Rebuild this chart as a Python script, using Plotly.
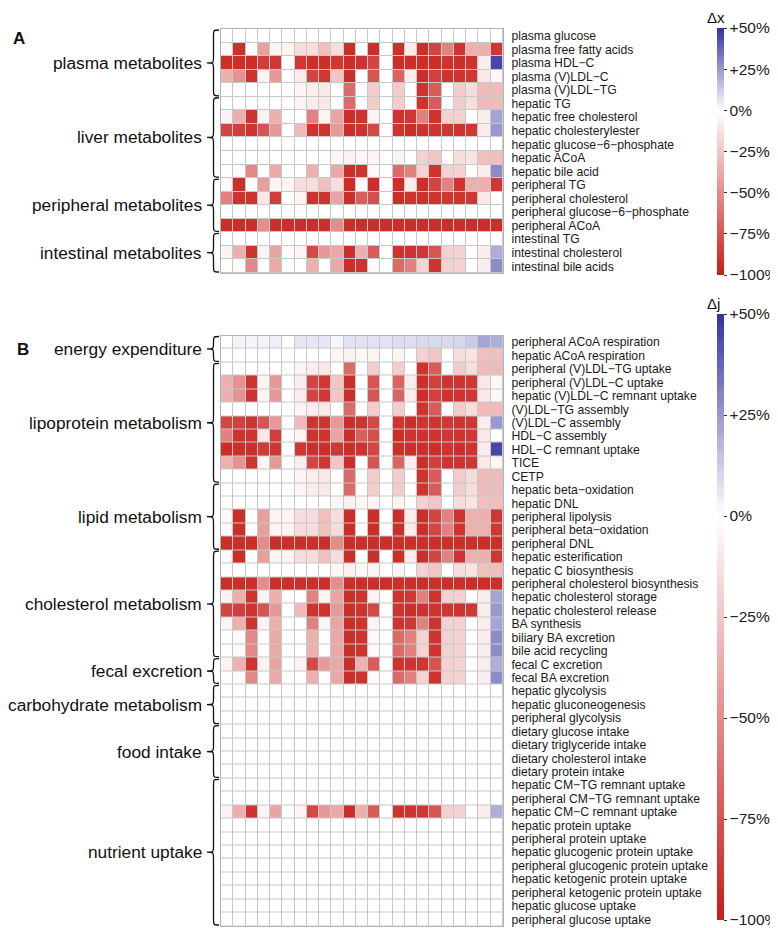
import plotly.graph_objects as go

W, H = 778, 928

# ---- percent change per cell (23 scenarios per row) ----
no_change = [0, 0, 0, 0, 0, 0, 0, 0, 0, 0, 0, 0, 0, 0, 0, 0, 0, 0, 0, 0, 0, 0, 0]
ffa_like = [-2, -92, 0, -42, -5, -5, -15, -15, -28, -15, -92, 0, -92, 0, -92, -8, -92, -82, -55, -90, -35, -35, -88]
hdl_like = [-92, -92, -92, -86, -88, 0, -88, -92, -92, -88, -92, -90, -82, 0, -92, -92, -92, -92, -90, -92, -90, -8, 45]
ldlc_like = [-35, -48, -90, -5, -45, 0, -8, -82, -88, -25, -92, 0, -75, 0, -68, -8, -92, -84, -90, -90, -88, -10, -3]
tg_like = [0, 0, 0, 0, 0, 0, -5, -8, -10, 0, -65, 0, -22, 0, -22, 0, -90, -72, 0, -22, -15, -30, -30]
freechol_like = [-5, -35, -90, -5, -35, 0, 0, -55, -5, -40, -92, -90, -5, 0, -90, -88, -55, -90, -20, -20, 0, -8, 22]
ester_like = [-82, -84, -90, -75, -45, 0, -30, -90, -90, -45, -92, -90, -80, 0, -90, -92, -90, -90, -88, -90, -88, -8, 25]
acoa_like = [0, 0, 0, 0, 0, 0, 0, 0, 0, -4, -6, -3, -5, 0, -5, 0, -20, -25, 0, -15, -12, -28, -28]
bileacid_like = [0, -2, -52, 0, -38, 0, 0, -35, 0, -38, -92, -90, -3, 0, -65, -55, -20, -90, -20, -20, 0, -8, 28]
pchol_like = [-55, -90, -90, -10, -85, 0, -5, -90, -90, -40, -92, -70, -78, 0, -92, -90, -90, -90, -88, -90, -88, -10, 0]
allred_like = [-92, -92, -92, -50, -92, -92, -92, -92, -92, -50, -92, -92, -92, -92, -92, -92, -92, -92, -92, -92, -92, -92, -92]
ichol_like = [-5, -35, -90, -5, -40, 0, -5, -80, -45, -38, -92, -35, -72, 0, -90, -90, -88, -75, -20, -20, 0, -8, 20]
resp_like = [0, 3, 3, 3, 4, 0, 6, 6, 6, 2, 7, 7, 7, 7, 8, 8, 9, 9, 9, 10, 13, 22, 20]

metab_labels = [
    "plasma glucose", "plasma free fatty acids", "plasma HDL\u2212C", "plasma (V)LDL\u2212C",
    "plasma (V)LDL\u2212TG", "hepatic TG", "hepatic free cholesterol", "hepatic cholesterylester",
    "hepatic glucose\u22126\u2212phosphate", "hepatic ACoA", "hepatic bile acid", "peripheral TG",
    "peripheral cholesterol", "peripheral glucose\u22126\u2212phosphate", "peripheral ACoA",
    "intestinal TG", "intestinal cholesterol", "intestinal bile acids",
]
metab_rows = [
    no_change, ffa_like, hdl_like, ldlc_like, tg_like, tg_like, freechol_like, ester_like,
    no_change, acoa_like, bileacid_like, ffa_like, pchol_like, no_change, allred_like,
    no_change, ichol_like, bileacid_like,
]
metab_groups = [("plasma metabolites", 5), ("liver metabolites", 6),
                ("peripheral metabolites", 4), ("intestinal metabolites", 3)]

flux_labels = [
    "peripheral ACoA respiration", "hepatic ACoA respiration", "peripheral (V)LDL\u2212TG uptake",
    "peripheral (V)LDL\u2212C uptake", "hepatic (V)LDL\u2212C remnant uptake", "(V)LDL\u2212TG assembly",
    "(V)LDL\u2212C assembly", "HDL\u2212C assembly", "HDL\u2212C remnant uptake", "TICE", "CETP",
    "hepatic beta\u2212oxidation", "hepatic DNL", "peripheral lipolysis", "peripheral beta\u2212oxidation",
    "peripheral DNL", "hepatic esterification", "hepatic C biosynthesis",
    "peripheral cholesterol biosynthesis", "hepatic cholesterol storage", "hepatic cholesterol release",
    "BA synthesis", "biliary BA excretion", "bile acid recycling", "fecal C excretion",
    "fecal BA excretion", "hepatic glycolysis", "hepatic gluconeogenesis", "peripheral glycolysis",
    "dietary glucose intake", "dietary triglyceride intake", "dietary cholesterol intake",
    "dietary protein intake", "hepatic CM\u2212TG remnant uptake", "peripheral CM\u2212TG remnant uptake",
    "hepatic CM\u2212C remnant uptake", "hepatic protein uptake", "peripheral protein uptake",
    "hepatic glucogenic protein uptake", "peripheral glucogenic protein uptake",
    "hepatic ketogenic protein uptake", "peripheral ketogenic protein uptake",
    "hepatic glucose uptake", "peripheral glucose uptake",
]
flux_rows = [
    resp_like, acoa_like, tg_like, ldlc_like, ldlc_like, tg_like, ester_like, pchol_like, hdl_like,
    ldlc_like, tg_like, tg_like, acoa_like, ffa_like, ffa_like, allred_like, ffa_like, acoa_like,
    allred_like, freechol_like, ester_like, freechol_like, bileacid_like, bileacid_like, ichol_like,
    bileacid_like, no_change, no_change, no_change, no_change, no_change, no_change, no_change,
    no_change, no_change, ichol_like, no_change, no_change, no_change, no_change, no_change,
    no_change, no_change, no_change,
]
flux_groups = [("energy expenditure", 2), ("lipoprotein metabolism", 9), ("lipid metabolism", 5),
               ("cholesterol metabolism", 8), ("fecal excretion", 2), ("carbohydrate metabolism", 3),
               ("food intake", 4), ("nutrient uptake", 11)]

bar_vals = [-100, -75, -50, -25, 0, 25, 50]
bar_text = ["\u2212100%", "\u221275%", "\u221250%", "\u221225%", "0%", "+25%", "+50%"]

# ---- geometry (pixels) ----
X_L, X_R = 213, 495
A_TOP, A_BOT = 21, 265
B_TOP, B_BOT = 327.5, 918
BAR_X = 709
FONT = "Liberation Sans, Arial, sans-serif"

scale = [[0, "rgb(200,28,24)"], [2 / 3, "rgb(255,255,255)"], [1, "rgb(50,50,160)"]]


def px(x):
    return x / W


def py(y):
    return 1 - y / H


def cbar(top, bot):
    return dict(
        tickvals=bar_vals, ticktext=bar_text, tickfont=dict(size=15.5, color="#222", family=FONT),
        ticks="outside", ticklen=3, tickcolor="#333",
        x=px(BAR_X), xanchor="left", xpad=0, y=py(top), yanchor="top", ypad=0,
        len=bot - top, lenmode="pixels", thickness=7, outlinewidth=0,
    )


fig = go.Figure()
cols = list(range(len(no_change)))
fig.add_trace(go.Heatmap(
    x=cols, y=metab_labels, z=metab_rows, zmin=-100, zmax=50, colorscale=scale,
    xgap=1, ygap=1, colorbar=cbar(20, 267), xaxis="x", yaxis="y",
))
fig.add_trace(go.Heatmap(
    x=cols, y=flux_labels, z=flux_rows, zmin=-100, zmax=50, colorscale=scale,
    xgap=1, ygap=1, colorbar=cbar(306, 912), xaxis="x2", yaxis="y2",
))

xax = dict(domain=[px(X_L), px(X_R)], range=[-0.5, len(cols) - 0.5], showticklabels=False,
           showgrid=False, zeroline=False, showline=True, linecolor="#b4b4b4", mirror=True, ticks="")
yax = dict(autorange="reversed", side="right", ticks="", showgrid=False, zeroline=False,
           tickmode="linear", tick0=0, dtick=1,
           showline=True, linecolor="#b4b4b4", mirror=True, ticklabelstandoff=5,
           tickfont=dict(size=12.2, color="#1a1a1a", family=FONT))

fig.update_layout(
    width=W, height=H, margin=dict(l=0, r=0, t=0, b=0),
    paper_bgcolor="white", plot_bgcolor="#c8c8c8",
    xaxis=dict(xax, anchor="y"), yaxis=dict(yax, domain=[py(A_BOT), py(A_TOP)], anchor="x"),
    xaxis2=dict(xax, anchor="y2"), yaxis2=dict(yax, domain=[py(B_BOT), py(B_TOP)], anchor="x2"),
    font=dict(family=FONT),
)

annotations = []
shapes = []


def brace(y0, y1):
    xe, xb, xt = 211, 205.5, 199
    ym = (y0 + y1) / 2
    r = min(6, (y1 - y0) / 4)
    pts = [
        ("M", [(xe, y0)]),
        ("C", [(xb, y0), (xb, y0), (xb, y0 + r)]),
        ("L", [(xb, ym - r)]),
        ("C", [(xb, ym), (xb, ym), (xt, ym)]),
        ("C", [(xb, ym), (xb, ym), (xb, ym + r)]),
        ("L", [(xb, y1 - r)]),
        ("C", [(xb, y1), (xb, y1), (xe, y1)]),
    ]
    path = " ".join(cmd + " " + " ".join(f"{px(a):.5f},{py(b):.5f}" for a, b in p) for cmd, p in pts)
    return dict(type="path", path=path, xref="paper", yref="paper",
                line=dict(color="#111", width=1.3))


def add_groups(groups, top, bot, n):
    rh = (bot - top) / n
    start = 0
    for name, size in groups:
        y0 = top + start * rh + 1
        y1 = top + (start + size) * rh - 1
        shapes.append(brace(y0, y1))
        annotations.append(dict(text=name, x=px(196), y=py((y0 + y1) / 2), xref="paper", yref="paper",
                                xanchor="right", yanchor="middle", showarrow=False,
                                font=dict(size=17.3, color="#111", family=FONT)))
        start += size


add_groups(metab_groups, A_TOP, A_BOT, len(metab_labels))
add_groups(flux_groups, B_TOP, B_BOT, len(flux_labels))


def label(text, x, y, size, xanchor="left", yanchor="middle"):
    annotations.append(dict(text=text, x=px(x), y=py(y), xref="paper", yref="paper",
                            xanchor=xanchor, yanchor=yanchor, showarrow=False,
                            font=dict(size=size, color="#111", family=FONT)))


label("<b>A</b>", 3, 30, 17)
label("<b>B</b>", 7, 341, 17)
label("\u0394x", BAR_X - 12, 20, 15, yanchor="bottom")
label("\u0394j", BAR_X - 12, 306, 15, yanchor="bottom")

fig.update_layout(annotations=annotations, shapes=shapes)
fig.write_html("out.html")
